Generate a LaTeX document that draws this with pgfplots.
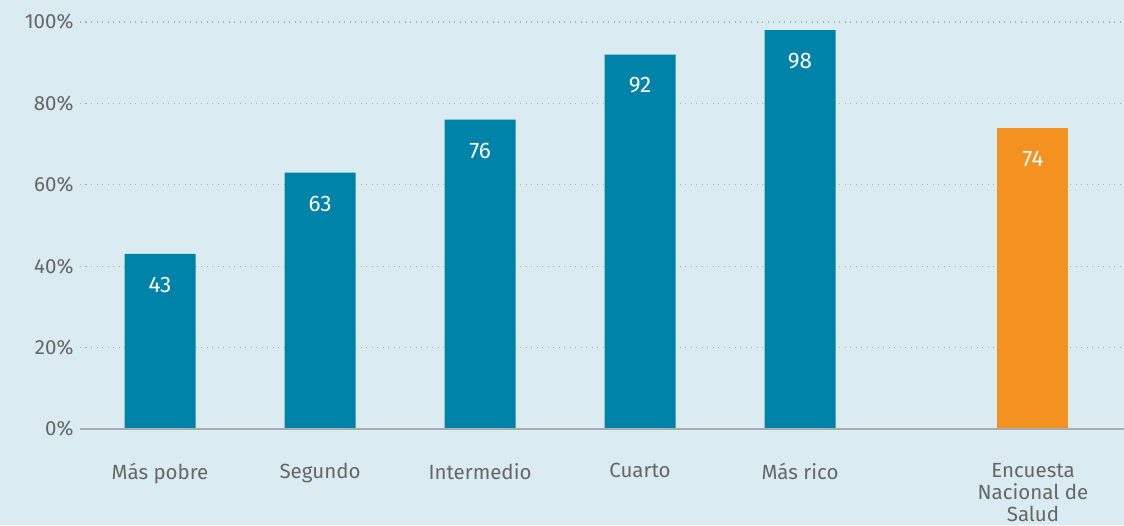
\documentclass[border=0pt]{standalone}
\usepackage{pgfplots}
\pgfplotsset{compat=1.18}
\usepackage{fontspec}
\setmainfont{Fira Sans}
\definecolor{bg}{HTML}{DAECF2}
\definecolor{barblue}{HTML}{0083A9}
\definecolor{barorange}{HTML}{F39220}
\definecolor{txt}{HTML}{666666}
\definecolor{gridc}{HTML}{A8AEB2}
\begin{document}
\begin{tikzpicture}[x=1pt,y=1pt]
\fill[bg] (-80,-96) rectangle (1044,429);
\useasboundingbox (-80,-96) rectangle (1044,429);
\begin{axis}[
  at={(0,0)}, anchor=south west,
  scale only axis,
  width=1044pt, height=407pt,
  xmin=-0.5, xmax=6.025,
  ymin=0, ymax=100,
  clip=false,
  axis line style={draw=none},
  major tick length=0pt,
  ytick={0,20,40,60,80,100},
  yticklabel={\pgfmathprintnumber{\tick}\%},
  ymajorgrids=true,
  grid style={gridc, line width=1.3pt, dash pattern=on 1.3pt off 4.2pt},
  xtick={0,1,2,3,4,5.456},
  xticklabels={Más pobre,Segundo,Intermedio,Cuarto,Más rico,{Encuesta\\Nacional de\\Salud}},
  /pgf/number format/assume math mode=true,
  tick label style={text=txt, font=\fontsize{20.5}{22}\selectfont},
  x tick label style={align=center, yshift=-31pt},
  y tick label style={xshift=-3pt},
  ybar, bar width=71pt, bar shift=0pt,
  nodes near coords,
  every node near coord/.append style={text=white, anchor=center, yshift=-31pt, font=\fontsize{22.5}{24}\selectfont},
]
\addplot[fill=barblue, draw=none] coordinates {(0,43) (1,63) (2,76) (3,92) (4,98)};
\addplot[fill=barorange, draw=none] coordinates {(5.456,74)};
\draw[gridc, line width=2pt] (axis cs:-0.5,0) -- (axis cs:6.025,0);
\end{axis}
\end{tikzpicture}
\end{document}
